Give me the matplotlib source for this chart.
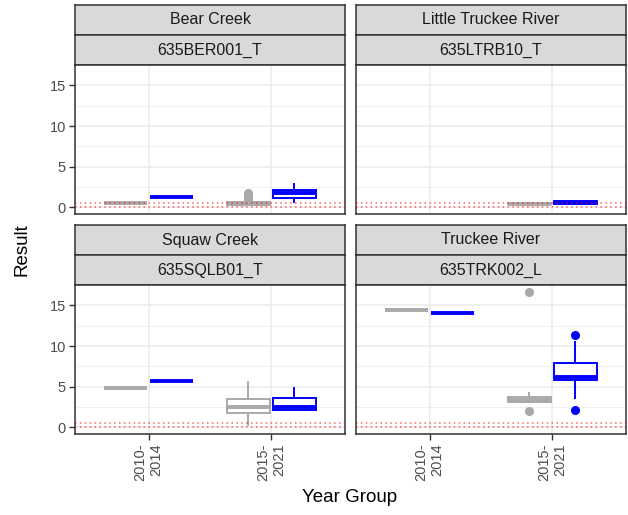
import matplotlib
matplotlib.use("Agg")
import matplotlib.pyplot as plt
from matplotlib.ticker import FixedLocator

plt.rcParams["font.family"] = ["Liberation Sans", "DejaVu Sans"]

W, H = 628, 515

SITES = ["Bear Creek", "Little Truckee River", "Squaw Creek", "Truckee River"]
CODES = ["635BER001_T", "635LTRB10_T", "635SQLB01_T", "635TRK002_L"]
YEAR_GROUPS = ["2010-\n2014", "2015-\n2021"]
THRESHOLDS = [0.5, 0.02]

# (whislo, q1, med, q3, whishi) for [2010-2014, 2015-2021], None = no data
GRAY_STATS = [
    [(0.52, 0.52, 0.52, 0.52, 0.52), (0.25, 0.25, 0.45, 0.6, 0.6)],
    [None, (0.35, 0.35, 0.45, 0.5, 0.5)],
    [(4.86, 4.86, 4.86, 4.86, 4.86), (0.24, 1.72, 2.45, 3.43, 5.52)],
    [(14.48, 14.48, 14.48, 14.48, 14.48), (3.07, 3.07, 3.3, 3.75, 4.17)],
]
GRAY_FLIERS = [
    [[], [1.0, 1.25, 1.45, 1.7]],
    [[], []],
    [[], []],
    [[], [2.04, 16.69]],
]
BLUE_STATS = [
    [(1.23, 1.23, 1.23, 1.23, 1.23), (0.69, 1.1, 1.76, 2.17, 2.86)],
    [None, (0.4, 0.42, 0.55, 0.72, 0.75)],
    [(5.68, 5.68, 5.68, 5.68, 5.68), (2.12, 2.12, 2.53, 3.56, 4.78)],
    [(14.07, 14.07, 14.07, 14.07, 14.07), (3.63, 5.8, 6.13, 7.93, 10.5)],
]
BLUE_FLIERS = [
    [[], []],
    [[], []],
    [[], []],
    [[], [2.12, 11.36]],
]

GRAY = "#A9A9A9"
BLUE = "#0000FF"
BORDER = "#333333"
GRID = "#EBEBEB"


def rect(x0, y0, x1, y1):
    # pixel box (from top-left) -> figure fraction
    return [x0 / W, 1 - y1 / H, (x1 - x0) / W, (y1 - y0) / H]


def draw_box(ax, st, fl, pos, col):
    if st is None:
        return
    stats = [dict(whislo=st[0], q1=st[1], med=st[2], q3=st[3], whishi=st[4], fliers=fl)]
    ax.bxp(stats, positions=[pos], widths=0.35, showcaps=False, patch_artist=True,
           manage_ticks=False,
           boxprops=dict(facecolor="white", edgecolor=col, linewidth=1.4),
           medianprops=dict(color=col, linewidth=2.8, solid_capstyle="butt"),
           whiskerprops=dict(color=col, linewidth=1.4),
           flierprops=dict(marker="o", markerfacecolor=col, markeredgecolor=col,
                           markersize=5.5))


fig = plt.figure(figsize=(W / 100, H / 100), dpi=100, facecolor="white")

cols_px = [(75, 345), (356, 626)]
rows_px = [(5, 65, 214), (225, 285, 434)]

for k in range(4):
    r, c = divmod(k, 2)
    x0, x1 = cols_px[c]
    s0, p0, p1 = rows_px[r]

    # strips
    for j, txt in enumerate([SITES[k], CODES[k]]):
        sa = fig.add_axes(rect(x0, s0 + 30 * j, x1, s0 + 30 * (j + 1)))
        sa.set_facecolor("#D9D9D9")
        sa.set_xticks([])
        sa.set_yticks([])
        for sp in sa.spines.values():
            sp.set_color(BORDER)
            sp.set_linewidth(1.1)
        sa.text(0.5, 0.5, txt, ha="center", va="center", fontsize=11.5,
                color="#1A1A1A", transform=sa.transAxes)

    ax = fig.add_axes(rect(x0, p0, x1, p1))
    ax.set_xlim(0.4, 2.6)
    ax.set_ylim(-0.83, 17.52)
    ax.set_axisbelow(True)
    ax.set_xticks([1, 2])
    ax.set_yticks([0, 5, 10, 15])
    ax.yaxis.set_minor_locator(FixedLocator([2.5, 7.5, 12.5, 17.5]))
    ax.grid(which="major", color=GRID, linewidth=1.1)
    ax.grid(which="minor", axis="y", color=GRID, linewidth=0.55)
    for sp in ax.spines.values():
        sp.set_color(BORDER)
        sp.set_linewidth(1.1)
    ax.tick_params(which="minor", length=0)
    ax.tick_params(which="major", color=BORDER, length=4.5, width=1.0, pad=2,
                   labelsize=10.5, labelcolor="#4D4D4D")

    for g in range(2):
        draw_box(ax, GRAY_STATS[k][g], GRAY_FLIERS[k][g], g + 1 - 0.1875, GRAY)
        draw_box(ax, BLUE_STATS[k][g], BLUE_FLIERS[k][g], g + 1 + 0.1875, BLUE)

    for t in THRESHOLDS:
        ax.axhline(t, color="red", alpha=0.6, linestyle=(0, (1, 2.2)),
                   linewidth=1.1, zorder=5)

    if c == 0:
        ax.set_yticklabels(["0", "5", "10", "15"])
    else:
        ax.tick_params(axis="y", left=False, labelleft=False)
    if r == 1:
        ax.set_xticklabels(YEAR_GROUPS, rotation=90, ha="center", va="top",
                           multialignment="right")
    else:
        ax.tick_params(axis="x", bottom=False, labelbottom=False)

fig.text(350 / W, 1 - 498 / H, "Year Group", ha="center", va="center",
         fontsize=13.5, color="black")
fig.text(22 / W, 1 - 250 / H, "Result", ha="center", va="center",
         rotation=90, fontsize=13.5, color="black")

fig.savefig("out.png", dpi=100, facecolor="white")
